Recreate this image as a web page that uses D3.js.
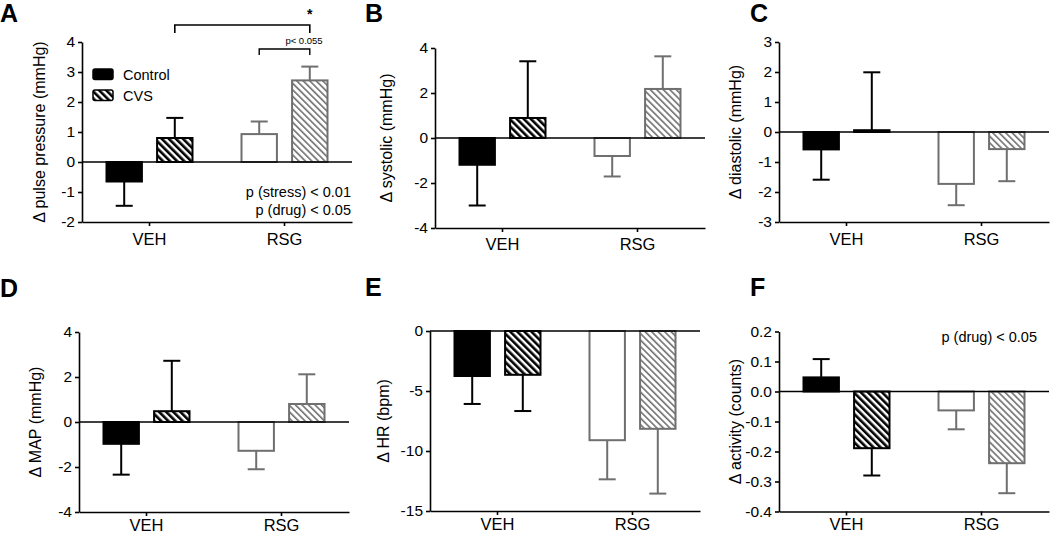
<!DOCTYPE html>
<html><head><meta charset="utf-8">
<script src="https://cdn.jsdelivr.net/npm/d3@7"></script>
<style>body{margin:0;background:#fff} svg{display:block;font-family:"Liberation Sans",Arial,sans-serif}</style>
</head><body><svg id="c" width="1050" height="534"></svg>
<script>
// ---------- data ----------
const categories = ["VEH", "RSG"];
const seriesNames = ["Control", "CVS"];

const pulseControl = [-0.65, 0.93], pulseControlSem = [0.81, 0.42];
const pulseCvs = [0.80, 2.72], pulseCvsSem = [0.67, 0.46];
const pulseTicks = [-2, -1, 0, 1, 2, 3, 4];

const systolicControl = [-1.19, -0.80], systolicControlSem = [1.81, 0.91];
const systolicCvs = [0.89, 2.18], systolicCvsSem = [2.52, 1.45];
const systolicTicks = [-4, -2, 0, 2, 4];

const diastolicControl = [-0.58, -1.73], diastolicControlSem = [1.01, 0.71];
const diastolicCvs = [0.06, -0.57], diastolicCvsSem = [1.93, 1.07];
const diastolicTicks = [-3, -2, -1, 0, 1, 2, 3];

const mapControl = [-0.97, -1.28], mapControlSem = [1.37, 0.82];
const mapCvs = [0.48, 0.80], mapCvsSem = [2.24, 1.32];
const mapTicks = [-4, -2, 0, 2, 4];

const hrControl = [-3.75, -9.1], hrControlSem = [2.33, 3.26];
const hrCvs = [-3.65, -8.15], hrCvsSem = [3.02, 5.40];
const hrTicks = [-15, -10, -5, 0];

const activityControl = [0.047, -0.063], activityControlSem = [0.061, 0.063];
const activityCvs = [-0.189, -0.239], activityCvsSem = [0.091, 0.100];
const activityTicks = [-0.4, -0.3, -0.2, -0.1, 0.0, 0.1, 0.2];

// ---------- layout ----------
const W = 270, H = 180;
const GRAY = "#6f6f6f";
const hy = f => d => f(d).replace("\u2212", "-");
const fInt = hy(d3.format("d")), fDec = hy(d3.format(".1f"));
const panels = [
  {letter:"A", lx:0, ly:22, x0:82, top:42, labX:40, pad:7, label:"\u0394 pulse pressure (mmHg)", ticks:pulseTicks, fmt:fInt,
   c:pulseControl, cs:pulseControlSem, v:pulseCvs, vs:pulseCvsSem},
  {letter:"B", lx:365, ly:22, x0:435, top:48, labX:387, pad:6, label:"\u0394 systolic (mmHg)", ticks:systolicTicks, fmt:fInt,
   c:systolicControl, cs:systolicControlSem, v:systolicCvs, vs:systolicCvsSem},
  {letter:"C", lx:750, ly:22, x0:779, top:42, labX:736, pad:7, label:"\u0394 diastolic (mmHg)", ticks:diastolicTicks, fmt:fInt,
   c:diastolicControl, cs:diastolicControlSem, v:diastolicCvs, vs:diastolicCvsSem},
  {letter:"D", lx:0, ly:297, x0:79, top:332, labX:36, pad:3, label:"\u0394 MAP (mmHg)", ticks:mapTicks, fmt:fInt,
   c:mapControl, cs:mapControlSem, v:mapCvs, vs:mapCvsSem},
  {letter:"E", lx:365, ly:296, x0:430, top:331, labX:384, pad:3, label:"\u0394 HR (bpm)", ticks:hrTicks, fmt:fInt,
   c:hrControl, cs:hrControlSem, v:hrCvs, vs:hrCvsSem},
  {letter:"F", lx:750, ly:296, x0:779, top:331.5, labX:736, pad:3, label:"\u0394 activity (counts)", ticks:activityTicks, fmt:fDec,
   c:activityControl, cs:activityControlSem, v:activityCvs, vs:activityCvsSem}
];

const svg = d3.select("#c");
const defs = svg.append("defs");
function hatch(id, color, thick, size) {
  const p = defs.append("pattern").attr("id", id).attr("patternUnits", "userSpaceOnUse")
    .attr("width", size).attr("height", size).attr("patternTransform", "rotate(-45)");
  p.append("rect").attr("width", size).attr("height", size).attr("fill", "#fff");
  p.append("rect").attr("x", 0).attr("y", 0).attr("width", thick).attr("height", size).attr("fill", color);
}
hatch("hatchBlack", "#000", 2.6, 5);
hatch("hatchGray", GRAY, 1.6, 4.6);

const fills = {VEH: {Control: "#000", CVS: "url(#hatchBlack)"}, RSG: {Control: "#fff", CVS: "url(#hatchGray)"}};
const strokes = {VEH: "#000", RSG: GRAY};

function drawPanel(p) {
  const g = svg.append("g");
  const x = d3.scaleBand().domain(categories).range([p.x0, p.x0 + W]);
  const y = d3.scaleLinear().domain(d3.extent(p.ticks)).range([p.top + H, p.top]);
  const sub = d3.scaleBand().domain(seriesNames).range([-43, 43]).paddingInner(0.3);

  const rows = [];
  categories.forEach((cat, i) => {
    rows.push({cat, s: "Control", v: p.c[i], e: p.cs[i]});
    rows.push({cat, s: "CVS", v: p.v[i], e: p.vs[i]});
  });

  g.selectAll("rect.bar").data(rows).join("rect").attr("class", "bar")
    .attr("x", d => x(d.cat) + x.bandwidth() / 2 + sub(d.s))
    .attr("width", sub.bandwidth())
    .attr("y", d => y(Math.max(0, d.v)))
    .attr("height", d => Math.abs(y(d.v) - y(0)))
    .attr("fill", d => fills[d.cat][d.s])
    .attr("stroke", d => strokes[d.cat])
    .attr("stroke-width", 2);

  const cx = d => x(d.cat) + x.bandwidth() / 2 + sub(d.s) + sub.bandwidth() / 2;
  const end = d => d.v + (d.v >= 0 ? d.e : -d.e);
  g.selectAll("line.err").data(rows).join("line").attr("class", "err")
    .attr("x1", cx).attr("x2", cx)
    .attr("y1", d => y(d.v)).attr("y2", d => y(end(d)))
    .attr("stroke", d => strokes[d.cat]).attr("stroke-width", 2);
  g.selectAll("line.cap").data(rows).join("line").attr("class", "cap")
    .attr("x1", d => cx(d) - 8.5).attr("x2", d => cx(d) + 8.5)
    .attr("y1", d => y(end(d))).attr("y2", d => y(end(d)))
    .attr("stroke", d => strokes[d.cat]).attr("stroke-width", 2);

  g.append("line").attr("x1", p.x0).attr("x2", p.x0 + W).attr("y1", y(0)).attr("y2", y(0))
    .attr("stroke", "#000").attr("stroke-width", 1.5);

  const ya = g.append("g").attr("transform", `translate(${p.x0},0)`)
    .call(d3.axisLeft(y).tickValues(p.ticks).tickFormat(p.fmt).tickSize(4).tickSizeOuter(0).tickPadding(3));
  ya.attr("font-family", null);
  ya.selectAll("text").attr("font-size", 15.5).attr("fill", "#000");
  ya.selectAll("path,line").attr("stroke", "#000").attr("stroke-width", 1.6);

  const xa = g.append("g").attr("transform", `translate(0,${p.top + H})`)
    .call(d3.axisBottom(x).tickSize(4).tickSizeOuter(0).tickPadding(p.pad));
  xa.attr("font-family", null);
  xa.selectAll("text").attr("font-size", 16.5).attr("fill", "#000");
  xa.selectAll("path,line").attr("stroke", "#000").attr("stroke-width", 1.6);

  g.append("text").attr("transform", `translate(${p.labX},${p.top + H / 2}) rotate(-90)`)
    .attr("text-anchor", "middle").attr("dy", "0.32em").attr("font-size", 16).text(p.label);

  svg.append("text").attr("x", p.lx).attr("y", p.ly).attr("font-size", 25).attr("font-weight", "bold").text(p.letter);
  return {x, y, sub};
}

const scales = panels.map(drawPanel);

// ---------- panel A annotations ----------
const leg = svg.append("g");
seriesNames.forEach((n, i) => {
  leg.append("rect").attr("x", 93).attr("y", 69 + i * 21).attr("width", 20).attr("height", 10.5).attr("rx", 2)
    .attr("fill", fills.VEH[n]).attr("stroke", "#000").attr("stroke-width", 1.5);
  leg.append("text").attr("x", 123).attr("y", 79.5 + i * 21.5).attr("font-size", 14.5).text(n);
});

const sA = scales[0];
const cxA = (cat, s) => sA.x(cat) + sA.x.bandwidth() / 2 + sA.sub(s) + sA.sub.bandwidth() / 2;
const bx1 = cxA("VEH", "CVS"), bx2 = cxA("RSG", "CVS"), bx3 = cxA("RSG", "Control");
svg.append("path").attr("d", `M${bx1},33V25H${bx2}V33`).attr("fill", "none").attr("stroke", "#000").attr("stroke-width", 1.6);
svg.append("text").attr("x", bx2).attr("y", 19).attr("text-anchor", "middle").attr("font-size", 14).attr("font-weight", "bold").text("*");
svg.append("path").attr("d", `M${bx3},55V49H${bx2}V55`).attr("fill", "none").attr("stroke", "#000").attr("stroke-width", 1.4);
svg.append("text").attr("x", 304).attr("y", 44).attr("text-anchor", "middle").attr("font-size", 9.5).text("p< 0.055");

svg.append("text").attr("x", 351).attr("y", 197).attr("text-anchor", "end").attr("font-size", 14.5).text("p (stress) < 0.01");
svg.append("text").attr("x", 351).attr("y", 215).attr("text-anchor", "end").attr("font-size", 14.5).text("p (drug) < 0.05");

svg.append("text").attr("x", 1037).attr("y", 342).attr("text-anchor", "end").attr("font-size", 14.5).text("p (drug) < 0.05");
</script></body></html>
